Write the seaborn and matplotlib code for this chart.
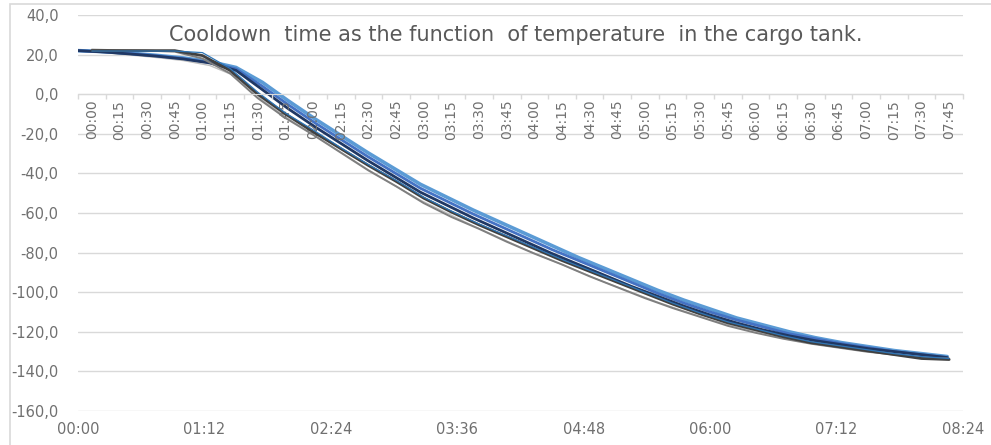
import matplotlib
matplotlib.use("Agg")
import matplotlib.pyplot as plt
import pandas as pd
import seaborn as sns
from matplotlib.patches import Rectangle
from matplotlib.ticker import FixedLocator, NullFormatter, FixedFormatter

sns.set_style("white")
plt.rcParams['font.family'] = ['DejaVu Sans']

# category axis (crosses the value axis at 0)
cat_labels = ["00:00", "00:15", "00:30", "00:45", "01:00", "01:15", "01:30", "01:45",
              "02:00", "02:15", "02:30", "02:45", "03:00", "03:15", "03:30", "03:45",
              "04:00", "04:15", "04:30", "04:45", "05:00", "05:15", "05:30", "05:45",
              "06:00", "06:15", "06:30", "06:45", "07:00", "07:15", "07:30", "07:45"]
# time stamps of the measured series (every 15 min)
times = cat_labels + ["08:00", "08:15"]
# bottom time axis
time_ticks = ["00:00", "01:12", "02:24", "03:36", "04:48", "06:00", "07:12", "08:24"]

# series plotted against time
navy = [22, 21.3, 20.3, 19.2, 17.8, 15.8, 12, 2.3, -7.5, -16.5, -25, -33.5, -41.5, -49.5,
        -56, -62.5, -68.5, -74.5, -80.5, -86, -91.5, -97, -102, -107, -111.5, -115.5,
        -119, -122, -124.5, -126.5, -128.5, -130, -131.5, -133]
light_blue = [22, 21.5, 20.7, 19.6, 18.3, 16.5, 13.5, 6, -3.5, -12.5, -21, -29.5, -37.5, -45.5,
              -52, -58.5, -64.5, -70.5, -76.5, -82.5, -88, -93.5, -99, -104, -108.5, -113,
              -116.5, -120, -123, -125.5, -127.5, -129.5, -131, -132.5]
mid_blue = [22, 21.4, 20.5, 19.4, 18, 16, 12.8, 4, -5.5, -14.5, -23, -31.5, -39.5, -47.5,
            -54, -60.5, -66.5, -72.5, -78.5, -84, -89.5, -95, -100.5, -105.5, -110, -114,
            -117.5, -121, -123.5, -126, -128, -130, -131.5, -133]
light_gray = [22, 21, 19.8, 18.5, 17, 14.5, 9, -3, -12.5, -21, -29.5, -38, -46, -53.5,
              -60, -66.5, -72.5, -78.5, -84, -89.5, -95, -100, -105, -109.5, -114, -117.5,
              -120.5, -123.5, -125.5, -127.5, -129.5, -131, -132.5, -133.5]

# series plotted on the category axis
dark_gray = [22, 22, 22, 22, 19.5, 12, 0, -10, -19, -27.5, -36, -44, -52.5, -59.5, -66, -72,
             -78, -84, -89.5, -95, -100.5, -106, -111, -115.5, -119, -122.5, -125.5, -127.5,
             -129.5, -131.5, -133.5, -134]
gray = [22.5, 22.2, 22, 21.5, 18, 10.5, -2, -12, -20.5, -29.5, -38.5, -46.5, -55, -62, -68,
        -74.5, -80.5, -86, -92, -97.5, -103, -108, -112.5, -117, -120.5, -123.5, -126, -128,
        -130, -131.5, -133, -133.5]
thin_blue = [21.8, 21.8, 21.8, 21.8, 21, 13, 1, -9.5, -18, -27, -35.5, -43.5, -52, -59, -65.5,
             -71.5, -77.5, -83.5, -89, -94.5, -100, -105.5, -110.5, -115, -118.5, -122, -125,
             -127, -129, -131, -132.5, -133.5]

def to_hours(s):
    h, m = s.split(":")
    return int(h) + int(m) / 60

hours = [to_hours(t) for t in times]

df_time = pd.concat([
    pd.DataFrame({"x": hours, "y": light_gray, "s": "light_gray"}),
    pd.DataFrame({"x": hours, "y": light_blue, "s": "light_blue"}),
    pd.DataFrame({"x": hours, "y": mid_blue, "s": "mid_blue"}),
    pd.DataFrame({"x": hours, "y": navy, "s": "navy"}),
])
idx = list(range(len(cat_labels)))
df_cat = pd.concat([
    pd.DataFrame({"x": idx, "y": gray, "s": "gray"}),
    pd.DataFrame({"x": idx, "y": dark_gray, "s": "dark_gray"}),
    pd.DataFrame({"x": idx, "y": thin_blue, "s": "thin_blue"}),
])

colors = {"light_gray": "#BFBFBF", "light_blue": "#5B9BD5", "mid_blue": "#4472C4",
          "navy": "#203864", "gray": "#7F7F7F", "dark_gray": "#404040", "thin_blue": "#2E75B6"}
widths = {"light_gray": 1.0, "light_blue": 2.6, "mid_blue": 2.0, "navy": 2.0,
          "gray": 1.4, "dark_gray": 2.0, "thin_blue": 0.9}

txt = "#707070"
grid = "#D9D9D9"

fig = plt.figure(figsize=(9.91, 4.45), dpi=100)
ax = fig.add_axes([78 / 991, 1 - 411 / 445, 885 / 991, 396 / 445])
ax_cat = ax.twiny()

sns.lineplot(data=df_time, x="x", y="y", hue="s", size="s", palette=colors, sizes=widths,
             hue_order=list(df_time["s"].unique()), legend=False, ax=ax)
sns.lineplot(data=df_cat, x="x", y="y", hue="s", size="s", palette=colors, sizes=widths,
             hue_order=list(df_cat["s"].unique()), legend=False, ax=ax_cat)

# value axes
ax.set_xlim(0, 8.4)
ax.set_ylim(-160, 40)
ax.set_yticks(range(-160, 41, 20))
ax.set_yticklabels([f"{v},0" for v in range(-160, 41, 20)])
ax.set_xticks([to_hours(t) for t in time_ticks])
ax.set_xticklabels(time_ticks)
ax.grid(axis="y", color=grid, lw=1)
ax.grid(axis="x", visible=False)
ax.set_axisbelow(True)
ax.tick_params(axis="y", length=0, pad=14, labelsize=10.5, labelcolor=txt)
ax.tick_params(axis="x", length=0, pad=8, labelsize=10.5, labelcolor=txt)
ax.set_xlabel("")
ax.set_ylabel("")
for sp in ax.spines.values():
    sp.set_visible(False)

# category axis at y = 0
n = len(cat_labels)
ax_cat.set_xlim(-0.5, n - 0.5)
ax_cat.xaxis.set_ticks_position("bottom")
ax_cat.xaxis.set_label_position("bottom")
ax_cat.spines["bottom"].set_position(("data", 0))
ax_cat.spines["bottom"].set_color(grid)
for k in ["top", "left", "right"]:
    ax_cat.spines[k].set_visible(False)
ax_cat.xaxis.set_major_locator(FixedLocator([i - 0.5 for i in range(n + 1)]))
ax_cat.xaxis.set_major_formatter(NullFormatter())
ax_cat.xaxis.set_minor_locator(FixedLocator(idx))
ax_cat.xaxis.set_minor_formatter(FixedFormatter(cat_labels))
ax_cat.tick_params(axis="x", which="major", direction="out", length=3.5, color=grid, width=1)
ax_cat.tick_params(axis="x", which="minor", length=0, pad=4, labelsize=10, labelcolor=txt,
                   labelrotation=90)
ax_cat.set_xlabel("")

fig.text(516 / 991, 1 - 35 / 445, "Cooldown  time as the function  of temperature  in the cargo tank.",
         ha="center", va="center", fontsize=15, color="#595959")

fig.patches.append(Rectangle((10 / 991, -0.5), 2, 0.5 + 1 - 4 / 445, transform=fig.transFigure,
                             fill=False, edgecolor=grid, lw=1.2))

fig.savefig("out.png", dpi=100)
